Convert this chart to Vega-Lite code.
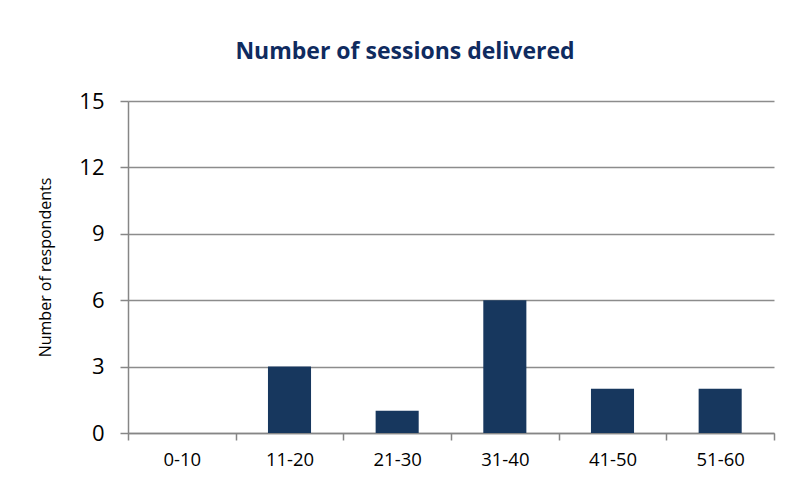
{
  "$schema": "https://vega.github.io/schema/vega-lite/v6.json",
  "width": 646,
  "height": 332,
  "autosize": {"type": "none"},
  "padding": {"left": 128, "top": 101, "right": 16, "bottom": 48},
  "background": "white",
  "config": {
    "view": {"stroke": null},
    "font": "Open Sans"
  },
  "title": {
    "text": "Number of sessions delivered",
    "anchor": "middle",
    "frame": "group",
    "dx": -46,
    "offset": 26,
    "font": "Open Sans",
    "fontSize": 23,
    "fontWeight": "bold",
    "color": "#0F2B5F"
  },
  "data": {
    "values": [
      {"range": "0-10", "count": 0},
      {"range": "11-20", "count": 3},
      {"range": "21-30", "count": 1},
      {"range": "31-40", "count": 6},
      {"range": "41-50", "count": 2},
      {"range": "51-60", "count": 2}
    ]
  },
  "mark": {"type": "bar", "color": "#17375E", "width": {"band": 0.4}},
  "encoding": {
    "x": {
      "field": "range",
      "type": "nominal",
      "sort": null,
      "scale": {"paddingInner": 0, "paddingOuter": 0},
      "axis": {
        "title": null,
        "labelAngle": 0,
        "labelFont": "Open Sans",
        "labelFontSize": 18.5,
        "labelColor": "#000000",
        "labelPadding": 10,
        "tickBand": "extent",
        "tickSize": 7,
        "tickColor": "#868686",
        "domainColor": "#868686",
        "domainWidth": 1.5,
        "tickWidth": 1.5,
        "grid": false
      }
    },
    "y": {
      "field": "count",
      "type": "quantitative",
      "scale": {"domain": [0, 15], "nice": false},
      "axis": {
        "title": "Number of respondents",
        "titleFont": "Open Sans",
        "titleFontSize": 16,
        "titleFontWeight": "normal",
        "titleColor": "#000000",
        "titlePadding": 25,
        "values": [0, 3, 6, 9, 12, 15],
        "labelFont": "Open Sans",
        "labelFontSize": 22,
        "labelColor": "#000000",
        "labelPadding": 16,
        "tickSize": 8,
        "tickColor": "#868686",
        "tickWidth": 1.5,
        "domainColor": "#868686",
        "domainWidth": 1.5,
        "grid": true,
        "gridColor": "#8C8C8C",
        "gridWidth": 1.5
      }
    }
  }
}
